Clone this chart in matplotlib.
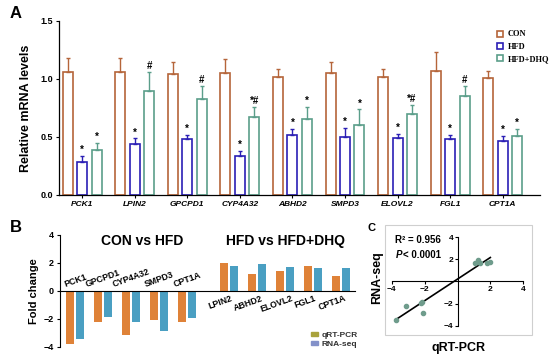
import matplotlib
matplotlib.use("Agg")
import matplotlib.pyplot as plt
from matplotlib.patches import Patch, Rectangle
import numpy as np

plt.rcParams['font.family'] = ['Liberation Sans', 'DejaVu Sans']
plt.rcParams['font.weight'] = 'bold'
plt.rcParams['axes.labelweight'] = 'bold'

# panel A: relative mRNA levels
genes_a = ["PCK1", "LPIN2", "GPCPD1", "CYP4A32", "ABHD2", "SMPD3", "ELOVL2", "FGL1", "CPT1A"]
con = [1.06, 1.06, 1.04, 1.05, 1.02, 1.05, 1.02, 1.07, 1.01]
con_err = [0.12, 0.12, 0.11, 0.12, 0.07, 0.10, 0.07, 0.16, 0.06]
hfd = [0.285, 0.44, 0.485, 0.34, 0.52, 0.50, 0.49, 0.48, 0.465]
hfd_err = [0.055, 0.05, 0.035, 0.04, 0.05, 0.08, 0.04, 0.04, 0.045]
dhq = [0.39, 0.90, 0.83, 0.67, 0.655, 0.60, 0.70, 0.85, 0.51]
dhq_err = [0.06, 0.16, 0.11, 0.09, 0.105, 0.14, 0.08, 0.09, 0.06]
hfd_sig = ["*"] * 9
dhq_sig = ["*", "#", "#", "*#", "*", "*", "*#", "#", "*"]

# panel B: fold change
genes_b1 = ["PCK1", "GPCPD1", "CYP4A32", "SMPD3", "CPT1A"]
qpcr_b1 = [-3.75, -2.18, -3.15, -2.10, -2.20]
rnaseq_b1 = [-3.45, -1.85, -2.20, -2.85, -1.90]
genes_b2 = ["LPIN2", "ABHD2", "ELOVL2", "FGL1", "CPT1A"]
qpcr_b2 = [2.00, 1.24, 1.40, 1.79, 1.07]
rnaseq_b2 = [1.76, 1.93, 1.69, 1.67, 1.67]

c_con, c_hfd, c_dhq = "#b5653a", "#2b1fb5", "#5b9e8a"
c_q, c_r = "#df8238", "#4a9fc2"

W, H = 550, 354
fig = plt.figure(figsize=(5.5, 3.54), dpi=100)


def box(l, t, r, b):
    return [l / W, 1 - b / H, (r - l) / W, (b - t) / H]


# ---------- A ----------
ax = fig.add_axes(box(59, 21, 540, 195))
x = np.arange(len(genes_a))
bw, off = 0.19, 0.275
for vals, errs, col, dx in [(con, con_err, c_con, -off), (hfd, hfd_err, c_hfd, 0), (dhq, dhq_err, c_dhq, off)]:
    ax.bar(x + dx, vals, width=bw, facecolor="white", edgecolor=col, linewidth=1.2)
    ax.errorbar(x + dx, vals, yerr=[np.zeros(len(vals)), errs], fmt="none",
                ecolor=col, elinewidth=1, capsize=1.5, capthick=1)
for i in range(len(genes_a)):
    ax.text(x[i], hfd[i] + hfd_err[i] + 0.005, hfd_sig[i], ha="center", va="bottom", fontsize=7)
    ax.text(x[i] + off, dhq[i] + dhq_err[i] + 0.005, dhq_sig[i], ha="center", va="bottom", fontsize=7)
ax.set_xlim(-0.44, 8.71)
ax.set_ylim(0, 1.5)
ax.set_yticks([0, 0.5, 1.0, 1.5])
ax.set_yticklabels(["0.0", "0.5", "1.0", "1.5"])
ax.set_xticks(x)
ax.set_xticklabels(genes_a, style="italic", fontsize=6)
ax.tick_params(axis="y", labelsize=6.5, length=2.5, width=0.8, pad=2)
ax.tick_params(axis="x", length=2, width=0.8, pad=2)
for s in ["top", "right"]:
    ax.spines[s].set_visible(False)
for s in ["left", "bottom"]:
    ax.spines[s].set_linewidth(0.9)
ax.set_ylabel("Relative mRNA levels", fontsize=9, labelpad=6)
handles = [Patch(facecolor="white", edgecolor=c, linewidth=1.2) for c in (c_con, c_hfd, c_dhq)]
fig.legend(handles, ["CON", "HFD", "HFD+DHQ"], loc="upper left", bbox_to_anchor=(489 / W, 1 - 23 / H),
           frameon=False, handlelength=0.8, handleheight=0.7, handletextpad=0.5, labelspacing=0.5,
           prop={"family": "Liberation Serif", "weight": "bold", "size": 6})

# ---------- B ----------
bx = fig.add_axes(box(60, 235, 355, 347))
p1 = np.arange(len(genes_b1))
p2 = np.arange(len(genes_b2)) + len(genes_b1) + 0.5
bw2, off2 = 0.29, 0.18
bx.bar(p1 - off2, qpcr_b1, width=bw2, color=c_q)
bx.bar(p1 + off2, rnaseq_b1, width=bw2, color=c_r)
bx.bar(p2 - off2, qpcr_b2, width=bw2, color=c_q)
bx.bar(p2 + off2, rnaseq_b2, width=bw2, color=c_r)
for xi, g in zip(p1, genes_b1):
    bx.text(xi, 0.15, g, rotation=20, ha="center", va="bottom", fontsize=6.3)
for xi, g in zip(p2, genes_b2):
    bx.text(xi - 0.3, -0.2, g, rotation=20, ha="center", va="top", fontsize=6.3)
bx.text(2.4, 3.6, "CON vs HFD", ha="center", va="center", fontsize=10)
bx.text(7.5, 3.6, "HFD vs HFD+DHQ", ha="center", va="center", fontsize=10)
bx.set_xlim(-0.54, 10.0)
bx.set_ylim(-4, 4)
bx.set_yticks([-4, -2, 0, 2, 4])
bx.set_xticks([])
bx.tick_params(axis="y", labelsize=6.5, length=2.5, width=0.8, pad=2)
bx.spines["bottom"].set_position(("data", 0))
for s in ["top", "right"]:
    bx.spines[s].set_visible(False)
bx.set_ylabel("Fold change", fontsize=8, labelpad=3)
fig.legend([Patch(color="#a9a23c"), Patch(color="#8391c9")], ["qRT-PCR", "RNA-seq"],
           loc="upper left", bbox_to_anchor=(303 / W, 1 - 324 / H), frameon=False,
           handlelength=0.9, handleheight=0.5, handletextpad=0.4, labelspacing=0.2,
           prop={"weight": "bold", "size": 6}, labelcolor="#333333")

# ---------- C ----------
cx = fig.add_axes(box(385, 225, 532, 335))
xs = np.array(qpcr_b1 + qpcr_b2)
ys = np.array(rnaseq_b1 + rnaseq_b2)
cx.scatter(xs, ys, s=9, color="#6f9c8c", zorder=3)
k, b0 = np.polyfit(xs, ys, 1)
xl = np.array([xs.min() - 0.05, xs.max()])
cx.plot(xl, k * xl + b0, color="black", linewidth=1.2)
cx.set_xlim(-4.42, 4.54)
cx.set_ylim(-4.82, 5.09)
cx.spines["left"].set_position(("data", 0))
cx.spines["bottom"].set_position(("data", 0))
cx.spines["left"].set_bounds(-4, 4)
cx.spines["bottom"].set_bounds(-4, 4)
for s in ["top", "right"]:
    cx.spines[s].set_visible(False)
cx.set_xticks([-4, -2, 2, 4])
cx.set_yticks([-4, -2, 2, 4])
cx.tick_params(labelsize=6, length=2, width=0.8, pad=1)
cx.add_patch(Rectangle((0, 0), 1, 1, transform=cx.transAxes, fill=False,
                       edgecolor="#cfcfcf", linewidth=0.8, clip_on=False))
cx.text(0.068, 0.864, "R\u00b2 = 0.956", transform=cx.transAxes, ha="left", va="center", fontsize=7)
cx.text(0.075, 0.727, "P", style="italic", transform=cx.transAxes, ha="left", va="center", fontsize=7)
cx.text(0.123, 0.727, "< 0.0001", transform=cx.transAxes, ha="left", va="center", fontsize=7)
fig.text(458 / W, 1 - 348 / H, "qRT-PCR", ha="center", va="center", fontsize=9)
fig.text(377 / W, 1 - 278 / H, "RNA-seq", ha="center", va="center", rotation=90, fontsize=9)

# panel letters
fig.text(10 / W, 1 - 14 / H, "A", fontsize=12, ha="left", va="center")
fig.text(10 / W, 1 - 227 / H, "B", fontsize=12, ha="left", va="center")
fig.text(367 / W, 1 - 228 / H, "C", fontsize=8, ha="left", va="center")

fig.savefig("out.png", dpi=100)
